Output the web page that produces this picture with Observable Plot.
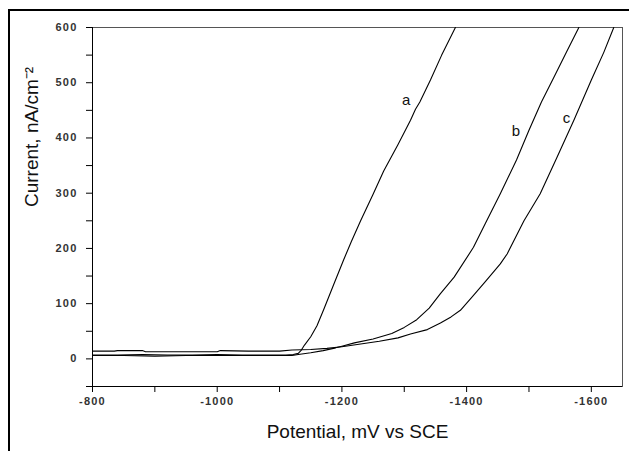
<!DOCTYPE html>
<html>
<head>
<meta charset="utf-8">
<script src="https://cdn.jsdelivr.net/npm/d3@7"></script>
<script src="https://cdn.jsdelivr.net/npm/@observablehq/plot@0.6"></script>
<style>
  html, body { margin: 0; padding: 0; background: #fff; }
  #wrap { position: relative; width: 629px; height: 451px; overflow: hidden; }
  #border { position: absolute; left: 8px; top: 9px; width: 640px; height: 460px;
            border-left: 2px solid #000; border-top: 2px solid #000; pointer-events: none; }
  #chart { position: absolute; left: 0; top: 0; }
  .ticklab text { letter-spacing: 1.2px; }
</style>
</head>
<body>
<div id="wrap"><div id="chart"></div><div id="border"></div></div>
<script>
// Curve a
const aV = [-800, -840, -880, -920, -960, -1000, -1040, -1080, -1110, -1122, -1130, -1135, -1140, -1150, -1160, -1171, -1187, -1203, -1215, -1230, -1250, -1267, -1290, -1310, -1318, -1325, -1342, -1360, -1382];
const aI = [7, 7, 8, 7, 7, 8, 7, 7, 7, 8, 10, 16, 25, 40, 60, 90, 135, 180, 212, 250, 298, 340, 388, 432, 452, 465, 505, 550, 600];
// Curve b
const bV = [-800, -850, -900, -950, -1000, -1050, -1100, -1120, -1130, -1150, -1170, -1190, -1200, -1220, -1250, -1280, -1300, -1320, -1340, -1358, -1380, -1411, -1430, -1454, -1480, -1500, -1520, -1540, -1560, -1580];
const bI = [6, 6, 5, 6, 6, 6, 6, 6, 8, 11, 15, 20, 23, 29, 36, 46, 57, 71, 92, 118, 148, 202, 245, 299, 360, 414, 465, 510, 555, 600];
// Curve c
const cV = [-800, -835, -840, -880, -885, -950, -1000, -1005, -1050, -1100, -1120, -1150, -1176, -1200, -1230, -1260, -1290, -1310, -1337, -1358, -1375, -1390, -1411, -1430, -1454, -1465, -1492, -1518, -1545, -1572, -1600, -1620, -1636];
const cI = [14, 14, 15, 15, 13, 13, 13, 15, 14, 14, 16, 17, 19, 22, 27, 32, 38, 45, 53, 65, 76, 88, 115, 140, 172, 190, 250, 299, 365, 432, 505, 555, 600];

// Curve labels
const labelNames = ["a", "b", "c"];
const labelV = [-1303, -1479, -1560];
const labelI = [468, 413, 435];

// Axis ticks
const xTicks = [-800, -1000, -1200, -1400, -1600];
const xMinor = [-900, -1100, -1300, -1500];
const yTicks = [0, 100, 200, 300, 400, 500, 600];
const yMinor = [-50, 50, 150, 250, 350, 450, 550];

const xTitle = "Potential, mV vs SCE";
const yTitle = "Current, nA/cm\u207B\u00B2";

const series = [
  {name: "a", V: aV, I: aI},
  {name: "b", V: bV, I: bI},
  {name: "c", V: cV, I: cI}
];
const rows = series.flatMap(s => s.V.map((v, i) => ({curve: s.name, v, i: s.I[i]})));
const labels = labelNames.map((n, k) => ({name: n, v: labelV[k], i: labelI[k]}));

const font = "Liberation Sans, Arial, sans-serif";

const chart = Plot.plot({
  width: 629,
  height: 451,
  marginLeft: 92,
  marginRight: 7,
  marginTop: 27,
  marginBottom: 65,
  style: {fontFamily: font, background: "transparent", overflow: "visible"},
  x: {domain: [-800, -1650], label: null},
  y: {domain: [-50, 600], label: null},
  marks: [
    Plot.frame({stroke: "#555", strokeWidth: 1}),
    Plot.axisX(xMinor, {tickSize: 6, tickFormat: () => "", stroke: "#000", label: null}),
    Plot.axisX(xTicks, {tickSize: 6, tickPadding: 5, tickFormat: d => String(d), fontSize: 11, fontWeight: "bold", fill: "#333", stroke: "#000", className: "ticklab", label: null}),
    Plot.axisY(yMinor, {tickSize: 6, tickFormat: () => "", stroke: "#000", label: null}),
    Plot.axisY(yTicks, {tickSize: 6, tickPadding: 9, tickFormat: d => String(d), fontSize: 11, fontWeight: "bold", fill: "#333", stroke: "#000", className: "ticklab", label: null}),
    Plot.ruleX([-800], {stroke: "#000"}),
    Plot.ruleY([-50], {stroke: "#000"}),
    Plot.line(rows, {x: "v", y: "i", z: "curve", stroke: "#000", strokeWidth: 1.1, curve: "linear"}),
    Plot.text(labels, {x: "v", y: "i", text: "name", fontSize: 15, fill: "#111", fontFamily: font}),
    Plot.text([xTitle], {frameAnchor: "bottom", dy: 45, fontSize: 19, fill: "#111", fontFamily: font, lineAnchor: "middle"}),
    Plot.text([yTitle], {frameAnchor: "left", dx: -61, rotate: -90, fontSize: 19, fill: "#111", fontFamily: font, lineAnchor: "middle"})
  ]
});
document.getElementById("chart").appendChild(chart);
</script>
</body>
</html>
